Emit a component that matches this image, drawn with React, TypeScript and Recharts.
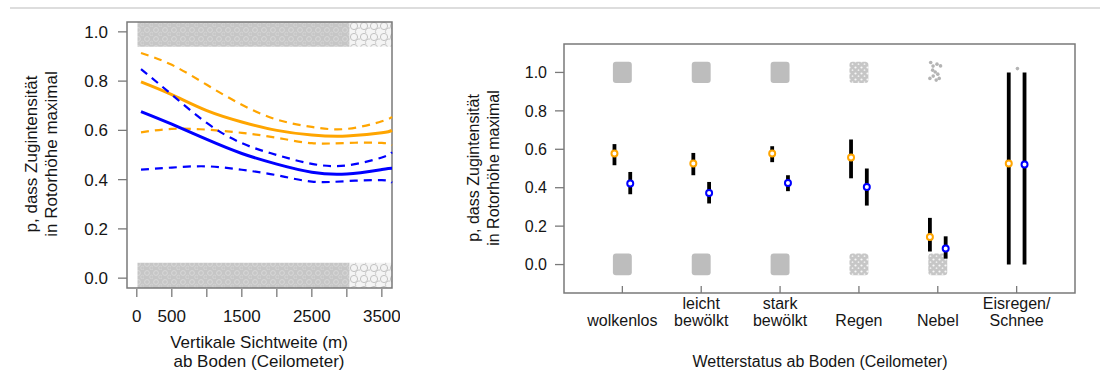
import { ComposedChart, Line, Scatter, XAxis, YAxis, ReferenceArea, ErrorBar } from "recharts"

const FONT = "'Liberation Sans', Arial, Helvetica, sans-serif"
const INK = "#151515"
const FRAME = "#7a7a7a"
const ORANGE = "#FFA500"
const BLUE = "#0000FF"

// --- left panel: fitted probability over vertical visibility ---
const distance = [60, 500, 1000, 1500, 2000, 2500, 3000, 3500, 3645]
const orangeFit = [0.797, 0.745, 0.68, 0.634, 0.6, 0.581, 0.577, 0.59, 0.6]
const orangeUpper = [0.914, 0.866, 0.785, 0.704, 0.644, 0.614, 0.606, 0.637, 0.655]
const orangeLower = [0.592, 0.606, 0.603, 0.59, 0.57, 0.548, 0.549, 0.549, 0.54]
const blueFit = [0.676, 0.625, 0.563, 0.506, 0.463, 0.43, 0.423, 0.441, 0.446]
const blueUpper = [0.849, 0.745, 0.63, 0.548, 0.5, 0.464, 0.458, 0.49, 0.511]
const blueLower = [0.441, 0.449, 0.454, 0.44, 0.418, 0.392, 0.394, 0.398, 0.387]

const distTicks = [0, 500, 1000, 1500, 2000, 2500, 3000, 3500]
const distLabels = ["0", "500", "", "1500", "", "2500", "", "3500"]
const probTicks = [0, 0.2, 0.4, 0.6, 0.8, 1.0]

// observed 0/1 outcomes, jittered bands along the x range
const bandStart = [10, 3040]
const bandEnd = [3040, 3645]
const bandFill = ["url(#ringsDense)", "url(#ringsOpen)"]

// --- right panel: estimates per weather state ---
const weatherLabels = [["wolkenlos"], ["leicht", "bewölkt"], ["stark", "bewölkt"], ["Regen"], ["Nebel"], ["Eisregen/", "Schnee"]]
const orangeEst = [0.578, 0.526, 0.578, 0.557, 0.144, 0.526]
const orangeLo = [0.517, 0.465, 0.533, 0.449, 0.068, 0.0]
const orangeHi = [0.627, 0.581, 0.616, 0.651, 0.243, 1.0]
const blueEst = [0.422, 0.373, 0.425, 0.404, 0.083, 0.521]
const blueLo = [0.366, 0.318, 0.382, 0.307, 0.031, 0.0]
const blueHi = [0.482, 0.43, 0.465, 0.5, 0.147, 1.0]

// jitter clouds at 0 and 1 for each weather state
const cloudTop = ["solid", "solid", "solid", "speckle", "none", "none"]
const cloudBottom = ["solid", "solid", "solid", "speckle", "speckle", "none"]
const fewTopX = [4.91, 4.94, 4.99, 5.035, 4.935, 4.967, 5.0, 4.942, 4.9, 5.018, 4.98, 6.01]
const fewTopY = [1.052, 1.033, 1.043, 1.034, 1.012, 1.002, 0.991, 0.981, 0.969, 0.969, 0.96, 1.02]

const curveRows = distance.map((d, i) => ({
  d,
  of: orangeFit[i],
  ou: orangeUpper[i],
  ol: orangeLower[i],
  bf: blueFit[i],
  bu: blueUpper[i],
  bl: blueLower[i],
}))

const orangeRows = orangeEst.map((y, i) => ({ x: i + 1 - 0.1, y, err: [y - orangeLo[i], orangeHi[i] - y] }))
const blueRows = blueEst.map((y, i) => ({ x: i + 1 + 0.1, y, err: [y - blueLo[i], blueHi[i] - y] }))
const fewRows = fewTopX.map((x, i) => ({ x, y: fewTopY[i] }))

const leftText = { fontFamily: FONT, fontSize: 17, fill: INK }
const rightText = { fontFamily: FONT, fontSize: 16, fill: INK }

const makeProbTick = (gap: number, style: any) => ({ x, y, payload }: any) => (
  <g>
    <line x1={x - 9} x2={x} y1={y} y2={y} stroke={FRAME} strokeWidth={1.3} />
    <text x={x - gap} y={y + style.fontSize * 0.358} textAnchor="end" style={style}>
      {payload.value.toFixed(1)}
    </text>
  </g>
)

const DistTick = ({ x, y, payload }: any) => (
  <g>
    <line x1={x} x2={x} y1={y + 1} y2={y + 9} stroke={FRAME} strokeWidth={1.3} />
    <text x={x} y={y + 34} textAnchor="middle" style={leftText}>
      {distLabels[distTicks.indexOf(payload.value)]}
    </text>
  </g>
)

const WeatherTick = ({ x, y, payload }: any) => {
  const lines = weatherLabels[payload.value - 1] || []
  return (
    <g>
      <line x1={x} x2={x} y1={y} y2={y - 7} stroke={FRAME} strokeWidth={1.3} />
      <text textAnchor="middle" style={rightText}>
        {lines.map((t, k) => (
          <tspan key={k} x={x} y={y + 33 - (lines.length - 1 - k) * 17}>
            {t}
          </tspan>
        ))}
      </text>
    </g>
  )
}

const ringDot = (color: string) => (props: any) => (
  <circle cx={props.cx} cy={props.cy} r={3} fill="#fff" stroke={color} strokeWidth={2} />
)

const GrayDot = (props: any) => <circle cx={props.cx} cy={props.cy} r={1.8} fill="#b4b4b4" />

const Patterns = () => (
  <svg width={0} height={0} style={{ position: "absolute" }}>
    <defs>
      <pattern id="ringsDense" patternUnits="userSpaceOnUse" width={9} height={9}>
        <rect width={9} height={9} fill="#c6c6c6" />
        <circle cx={3} cy={3} r={2.4} fill="none" stroke="#dadada" strokeWidth={0.8} />
        <circle cx={7.5} cy={7} r={1.8} fill="none" stroke="#d6d6d6" strokeWidth={0.8} />
      </pattern>
      <pattern id="ringsOpen" patternUnits="userSpaceOnUse" width={10} height={11}>
        <rect width={10} height={11} fill="#f4f4f4" />
        <circle cx={4} cy={4} r={3.6} fill="none" stroke="#c2c2c2" strokeWidth={1} />
        <circle cx={9} cy={9.5} r={3.6} fill="none" stroke="#c8c8c8" strokeWidth={1} />
      </pattern>
      <pattern id="speckle" patternUnits="userSpaceOnUse" width={6} height={6}>
        <rect width={6} height={6} fill="#c6c6c6" />
        <circle cx={1.5} cy={1.5} r={1.1} fill="#fff" opacity={0.85} />
        <circle cx={4.5} cy={4.2} r={0.9} fill="#fff" opacity={0.7} />
      </pattern>
    </defs>
  </svg>
)

const cloudFill = (kind: string) => (kind === "solid" ? "#bdbdbd" : "url(#speckle)")

const LeftPanel = () => (
  <ComposedChart width={400} height={373} data={curveRows} margin={{ top: 22, right: 8, bottom: 0, left: 0 }}>
    <XAxis
      dataKey="d"
      type="number"
      domain={[-140, 3645]}
      ticks={distTicks}
      interval={0}
      axisLine={false}
      tickLine={false}
      tickSize={0}
      tickMargin={0}
      height={85}
      tick={<DistTick />}
    />
    <YAxis
      type="number"
      domain={[-0.04, 1.04]}
      ticks={probTicks}
      interval={0}
      axisLine={false}
      tickLine={false}
      tickSize={0}
      tickMargin={0}
      width={127}
      tick={makeProbTick(19, leftText)}
    />
    {bandStart.map((s, i) => (
      <ReferenceArea key={`t${i}`} x1={s} x2={bandEnd[i]} y1={0.94} y2={1.04} fill={bandFill[i]} fillOpacity={1} stroke="none" ifOverflow="visible" />
    ))}
    {bandStart.map((s, i) => (
      <ReferenceArea key={`b${i}`} x1={s} x2={bandEnd[i]} y1={-0.04} y2={0.063} fill={bandFill[i]} fillOpacity={1} stroke="none" ifOverflow="visible" />
    ))}
    <Line dataKey="ou" type="natural" stroke={ORANGE} strokeWidth={2.2} strokeDasharray="8 6" dot={false} isAnimationActive={false} />
    <Line dataKey="ol" type="natural" stroke={ORANGE} strokeWidth={2.2} strokeDasharray="8 6" dot={false} isAnimationActive={false} />
    <Line dataKey="of" type="natural" stroke={ORANGE} strokeWidth={3} dot={false} isAnimationActive={false} />
    <Line dataKey="bu" type="natural" stroke={BLUE} strokeWidth={2.2} strokeDasharray="8 6" dot={false} isAnimationActive={false} />
    <Line dataKey="bl" type="natural" stroke={BLUE} strokeWidth={2.2} strokeDasharray="8 6" dot={false} isAnimationActive={false} />
    <Line dataKey="bf" type="natural" stroke={BLUE} strokeWidth={3} dot={false} isAnimationActive={false} />
    <ReferenceArea x1={-140} x2={3645} y1={-0.04} y2={1.04} fill="none" stroke={FRAME} strokeWidth={1.5} ifOverflow="visible" />
  </ComposedChart>
)

const RightPanel = () => (
  <ComposedChart width={660} height={373} margin={{ top: 44, right: 25, bottom: 0, left: 0 }}>
    <XAxis
      dataKey="x"
      type="number"
      domain={[0.26, 6.74]}
      ticks={[1, 2, 3, 4, 5, 6]}
      interval={0}
      axisLine={false}
      tickLine={false}
      tickSize={0}
      tickMargin={0}
      height={80}
      tick={<WeatherTick />}
    />
    <YAxis
      dataKey="y"
      type="number"
      domain={[-0.148, 1.148]}
      ticks={probTicks}
      interval={0}
      axisLine={false}
      tickLine={false}
      tickSize={0}
      tickMargin={0}
      width={124}
      tick={makeProbTick(17, rightText)}
    />
    {cloudTop.map((k, i) =>
      k === "none" ? null : (
        <ReferenceArea key={`ct${i}`} x1={i + 0.88} x2={i + 1.12} y1={0.945} y2={1.055} fill={cloudFill(k)} fillOpacity={1} stroke="none" radius={3} ifOverflow="visible" />
      )
    )}
    {cloudBottom.map((k, i) =>
      k === "none" ? null : (
        <ReferenceArea key={`cb${i}`} x1={i + 0.88} x2={i + 1.12} y1={-0.056} y2={0.057} fill={cloudFill(k)} fillOpacity={1} stroke="none" radius={3} ifOverflow="visible" />
      )
    )}
    <Scatter data={fewRows} shape={GrayDot} isAnimationActive={false} />
    <Scatter data={orangeRows} shape={ringDot(ORANGE)} isAnimationActive={false}>
      <ErrorBar dataKey="err" direction="y" width={0} stroke="#000" strokeWidth={3.8} />
    </Scatter>
    <Scatter data={blueRows} shape={ringDot(BLUE)} isAnimationActive={false}>
      <ErrorBar dataKey="err" direction="y" width={0} stroke="#000" strokeWidth={3.8} />
    </Scatter>
    <ReferenceArea x1={0.26} x2={6.74} y1={-0.148} y2={1.148} fill="none" stroke={FRAME} strokeWidth={1.5} ifOverflow="visible" />
  </ComposedChart>
)

// axis titles and the thin rule across the top
const Titles = () => (
  <svg width={1100} height={373} style={{ position: "absolute", left: 0, top: 0, pointerEvents: "none" }}>
    <line x1={10} x2={1100} y1={8} y2={8} stroke="#d2d2d2" strokeWidth={1.5} />
    <text transform="translate(37,154) rotate(-90)" textAnchor="middle" style={leftText}>p, dass Zugintensität</text>
    <text transform="translate(57,154) rotate(-90)" textAnchor="middle" style={leftText}>in Rotorhöhe maximal</text>
    <text x={259} y={348} textAnchor="middle" style={leftText}>Vertikale Sichtweite (m)</text>
    <text x={259} y={367} textAnchor="middle" style={leftText}>ab Boden (Ceilometer)</text>
    <text transform="translate(479,168) rotate(-90)" textAnchor="middle" style={rightText}>p, dass Zugintensität</text>
    <text transform="translate(499,168) rotate(-90)" textAnchor="middle" style={rightText}>in Rotorhöhe maximal</text>
    <text x={820} y={367} textAnchor="middle" style={rightText}>Wetterstatus ab Boden (Ceilometer)</text>
  </svg>
)

export default function App() {
  return (
    <div style={{ position: "absolute", left: 0, top: 0, width: 1100, height: 373, background: "#fff", overflow: "hidden" }}>
      <Patterns />
      <div style={{ position: "absolute", left: 0, top: 0 }}>
        <LeftPanel />
      </div>
      <div style={{ position: "absolute", left: 440, top: 0 }}>
        <RightPanel />
      </div>
      <Titles />
    </div>
  )
}
